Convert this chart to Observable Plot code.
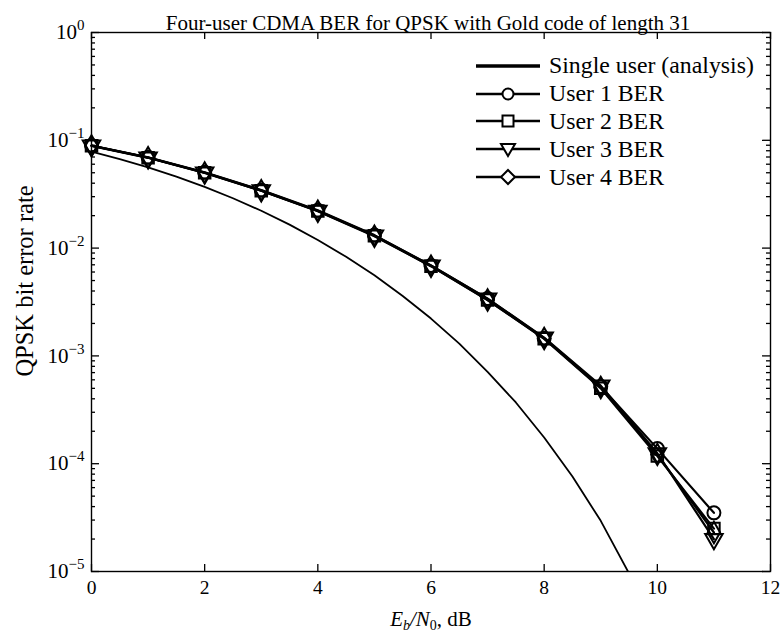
<!DOCTYPE html>
<html>
<head>
<meta charset="utf-8">
<script src="https://cdn.jsdelivr.net/npm/d3@7"></script>
<script src="https://cdn.jsdelivr.net/npm/@observablehq/plot@0.6"></script>
<style>
  html, body { margin: 0; padding: 0; background: white; }
  #wrap { position: relative; width: 782px; height: 636px; font-family: "Liberation Serif", "DejaVu Serif", serif; }
  #legend { position: absolute; left: 474px; top: 52px; font-size: 23.8px; color: black; }
  #legend .row { display: flex; align-items: center; height: 27.8px; }
  #legend svg { margin-right: 7px; }
  #chart g[aria-label="x-axis tick label"] { font-size: 19.5px; }
  #chart g[aria-label="y-axis tick label"] { font-size: 21px; }
</style>
</head>
<body>
<div id="wrap"><div id="chart"></div><div id="legend"></div></div>
<script>
// ---- data ----
const ebno = [0, 1, 2, 3, 4, 5, 6, 7, 8, 9, 10, 11];
const user1 = [0.0895, 0.0695, 0.0505, 0.0345, 0.0224, 0.0132, 0.0069, 0.0034, 0.00146, 0.00052, 1.38e-4, 3.5e-5];
const user2 = [0.0890, 0.0690, 0.0500, 0.0340, 0.0221, 0.0130, 0.0068, 0.0033, 0.00144, 0.00050, 1.18e-4, 2.5e-5];
const user3 = [0.0892, 0.0692, 0.0502, 0.0343, 0.0222, 0.0131, 0.0069, 0.0034, 0.00148, 0.00053, 1.25e-4, 2.0e-5];
const user4 = [0.0888, 0.0688, 0.0498, 0.0341, 0.0220, 0.0129, 0.0068, 0.0033, 0.00145, 0.00051, 1.22e-4, 2.3e-5];
const singleX = [0, 0.5, 1, 1.5, 2, 2.5, 3, 3.5, 4, 4.5, 5, 5.5, 6, 6.5, 7, 7.5, 8, 8.5, 9, 9.5, 9.8];
const singleY = [0.0786, 0.0668, 0.0560, 0.0460, 0.0370, 0.0290, 0.0222, 0.0165, 0.0119, 0.0083, 0.0056, 0.0036, 0.00222, 0.00130, 7.1e-4, 3.7e-4, 1.75e-4, 7.6e-5, 2.95e-5, 9.6e-6, 4.5e-6];
const xTicks = [0, 2, 4, 6, 8, 10, 12];
const yMajor = [1e-5, 1e-4, 1e-3, 1e-2, 1e-1, 1];
const titleText = "Four-user CDMA BER for QPSK with Gold code of length 31";
const yLabel = "QPSK bit error rate";
const seriesNames = ["Single user (analysis)", "User 1 BER", "User 2 BER", "User 3 BER", "User 4 BER"];

// ---- build ----
const W = 782, H = 636, mt = 32, ml = 91, mr = 12, mb = 65;
const PW = W - ml - mr, PH = H - mt - mb;
const yMinor = [];
yMajor.slice(0, -1).forEach(d => { for (let k = 2; k <= 9; k++) yMinor.push(k * d); });

const sup = {"-": "\u207B", "0": "\u2070", "1": "\u00B9", "2": "\u00B2", "3": "\u00B3", "4": "\u2074", "5": "\u2075"};
const fmt = d => "10" + String(Math.round(Math.log10(d))).split("").map(c => sup[c]).join("");

const users = [
  {v: user1, symbol: "circle", rotate: 0},
  {v: user2, symbol: "square", rotate: 0},
  {v: user3, symbol: "triangle", rotate: 180},
  {v: user4, symbol: "diamond", rotate: 0}
];
const single = singleX.map((x, i) => ({x, y: singleY[i]}));

const marks = [
  Plot.line(single, {x: "x", y: "y", stroke: "black", strokeWidth: 1.8, clip: true})
];
users.forEach(u => {
  const data = ebno.map((x, i) => ({x, y: u.v[i]}));
  marks.push(Plot.line(data, {x: "x", y: "y", stroke: "black", strokeWidth: 2.2}));
  marks.push(Plot.dot(data, {x: "x", y: "y", symbol: u.symbol, r: 6.5, stroke: "black", fill: "none", strokeWidth: 2, rotate: u.rotate}));
});
marks.push(
  Plot.frame({stroke: "black", strokeWidth: 1.4}),
  Plot.ruleX(xTicks, {x: d => d, insetTop: PH - 7, stroke: "black", strokeWidth: 1.3}),
  Plot.ruleX(xTicks, {x: d => d, insetBottom: PH - 7, stroke: "black", strokeWidth: 1.3}),
  Plot.ruleY(yMajor, {y: d => d, insetRight: PW - 8, stroke: "black", strokeWidth: 1.3}),
  Plot.ruleY(yMajor, {y: d => d, insetLeft: PW - 8, stroke: "black", strokeWidth: 1.3}),
  Plot.ruleY(yMinor, {y: d => d, insetRight: PW - 4, stroke: "black", strokeWidth: 1.3}),
  Plot.ruleY(yMinor, {y: d => d, insetLeft: PW - 4, stroke: "black", strokeWidth: 1.3}),
  Plot.axisX({ticks: xTicks, tickSize: 0, tickPadding: 9, label: "Eb/N0, dB", labelAnchor: "center", labelOffset: 54, labelArrow: "none"}),
  Plot.axisY({ticks: yMajor, tickSize: 0, tickPadding: 7, tickFormat: fmt, label: yLabel, labelAnchor: "center", labelOffset: 76, labelArrow: "none"}),
  Plot.text([titleText], {frameAnchor: "top", dy: -17, dx: -3, fontSize: 21})
);

const chart = Plot.plot({
  width: W, height: H,
  marginTop: mt, marginLeft: ml, marginRight: mr, marginBottom: mb,
  x: {domain: [0, 12]},
  y: {type: "log", domain: [1e-5, 1]},
  style: {fontFamily: "Liberation Serif", fontSize: "18px", color: "black", background: "white"},
  marks
});
document.getElementById("chart").appendChild(chart);

// rich y tick labels: 10 with raised exponent
const unsup = {};
Object.entries(sup).forEach(([k, v]) => unsup[v] = k);
d3.select(chart).selectAll('g[aria-label="y-axis tick label"] text').each(function () {
  const t = d3.select(this);
  const s = t.text();
  if (!s.startsWith("10")) return;
  const exp = s.slice(2).split("").map(c => unsup[c] ?? c).join("");
  t.text(null);
  t.append("tspan").text("10");
  t.append("tspan").attr("font-size", 15).attr("dy", -9).text(exp.replace("-", "\u2212"));
});

// rich x label: E_b/N_0, dB
const xl = d3.select(chart).select('g[aria-label="x-axis label"] text');
if (!xl.empty()) {
  xl.text(null).attr("font-size", 21);
  xl.append("tspan").attr("font-style", "italic").text("E");
  xl.append("tspan").attr("font-style", "italic").attr("font-size", 14).attr("dy", 4).text("b");
  xl.append("tspan").attr("dy", -4).attr("font-style", "italic").text("/N");
  xl.append("tspan").attr("font-size", 14).attr("dy", 4).text("0");
  xl.append("tspan").attr("dy", -4).text(", dB");
}
d3.select(chart).select('g[aria-label="y-axis label"] text').attr("font-size", 24.5).attr("dx", 21);

// legend
const legendSymbols = [null, "circle", "square", "triangle", "diamond"];
const lg = d3.select("#legend");
seriesNames.forEach((name, i) => {
  const row = lg.append("div").attr("class", "row");
  const s = row.append("svg").attr("width", 68).attr("height", 20);
  s.append("line").attr("x1", 2).attr("x2", 66).attr("y1", 10).attr("y2", 10)
    .attr("stroke", "black").attr("stroke-width", i === 0 ? 3.5 : 2.5);
  const sym = legendSymbols[i];
  const g = s.append("g").attr("transform", "translate(34,10)");
  if (sym === "circle") g.append("circle").attr("r", 5.5).attr("fill", "white").attr("stroke", "black").attr("stroke-width", 2);
  if (sym === "square") g.append("rect").attr("x", -5.5).attr("y", -5.5).attr("width", 11).attr("height", 11).attr("fill", "white").attr("stroke", "black").attr("stroke-width", 2);
  if (sym === "triangle") g.append("path").attr("d", "M-7,-5L7,-5L0,7Z").attr("fill", "white").attr("stroke", "black").attr("stroke-width", 2);
  if (sym === "diamond") g.append("path").attr("d", "M0,-7L7,0L0,7L-7,0Z").attr("fill", "white").attr("stroke", "black").attr("stroke-width", 2);
  row.append("span").text(name);
});
</script>
</body>
</html>
